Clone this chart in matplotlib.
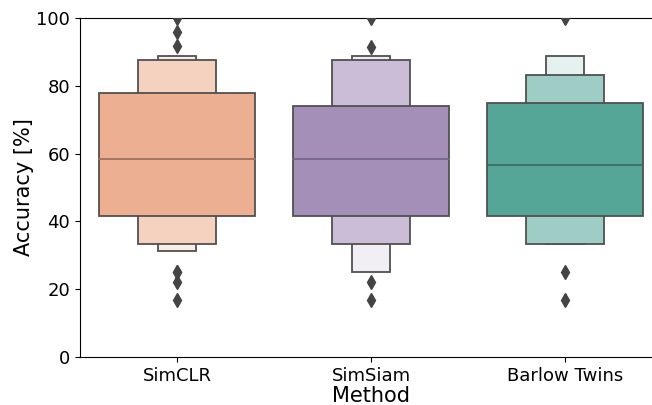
import numpy as np
import matplotlib
matplotlib.use("Agg")
import matplotlib.pyplot as plt

# Letter-value boxes: (lower, upper), innermost first
methods = ["SimCLR", "SimSiam", "Barlow Twins"]
simclr_boxes = [(41.7, 77.9), (33.3, 87.5), (31.3, 88.9)]
simsiam_boxes = [(41.7, 73.9), (33.3, 87.5), (25.0, 88.9)]
barlow_boxes = [(41.7, 75.0), (33.3, 83.3), (33.3, 88.9)]
medians = [58.3, 58.3, 56.5]
simclr_outliers = [100.0, 95.8, 91.7, 25.0, 25.0, 22.2, 16.7]
simsiam_outliers = [100.0, 91.3, 22.2, 16.7]
barlow_outliers = [100.0, 25.0, 16.7]

boxes = [simclr_boxes, simsiam_boxes, barlow_boxes]
outliers = [simclr_outliers, simsiam_outliers, barlow_outliers]

# fill colours per level (main, second, third)
colors = [
    ["#ecaf91", "#f5d1c0", "#fbece6"],
    ["#a48fb8", "#cbbdd7", "#f1eff4"],
    ["#56a698", "#9ecdc6", "#e4f1ee"],
]
median_colors = ["#9c7060", "#74658a", "#3f6e66"]
edge = "#505050"

fig = plt.figure(figsize=(6.52, 4.05), dpi=100)
# right edge of the axes runs past the canvas, as in the reference
ax = fig.add_axes([80 / 652, 48 / 405, 582 / 652, 339 / 405])

width = 0.8
for i, (levels, out) in enumerate(zip(boxes, outliers)):
    # draw narrowest (outermost) first so wider boxes sit on top
    for k in reversed(range(len(levels))):
        lo, hi = levels[k]
        w = width * 0.5 ** k
        ax.bar(i, hi - lo, bottom=lo, width=w, color=colors[i][k],
               edgecolor=edge, linewidth=1.3, zorder=2 + (len(levels) - k))
    ax.plot([i - width / 2, i + width / 2], [medians[i]] * 2,
            color=median_colors[i], linewidth=1.3, zorder=10)
    ax.plot([i] * len(out), out, linestyle="none", marker="d",
            markersize=7, color="#444444", zorder=11, clip_on=True)

ax.set_xlim(-0.5, 2.5)
ax.set_ylim(0, 100)
ax.set_xticks(range(len(methods)))
ax.set_xticklabels(methods)
ax.set_yticks(np.arange(0, 101, 20))
ax.tick_params(labelsize=13)
ax.set_xlabel("Method", fontsize=15, labelpad=1)
ax.set_ylabel("Accuracy [%]", fontsize=15, labelpad=2)

fig.savefig("out.png", dpi=100)
